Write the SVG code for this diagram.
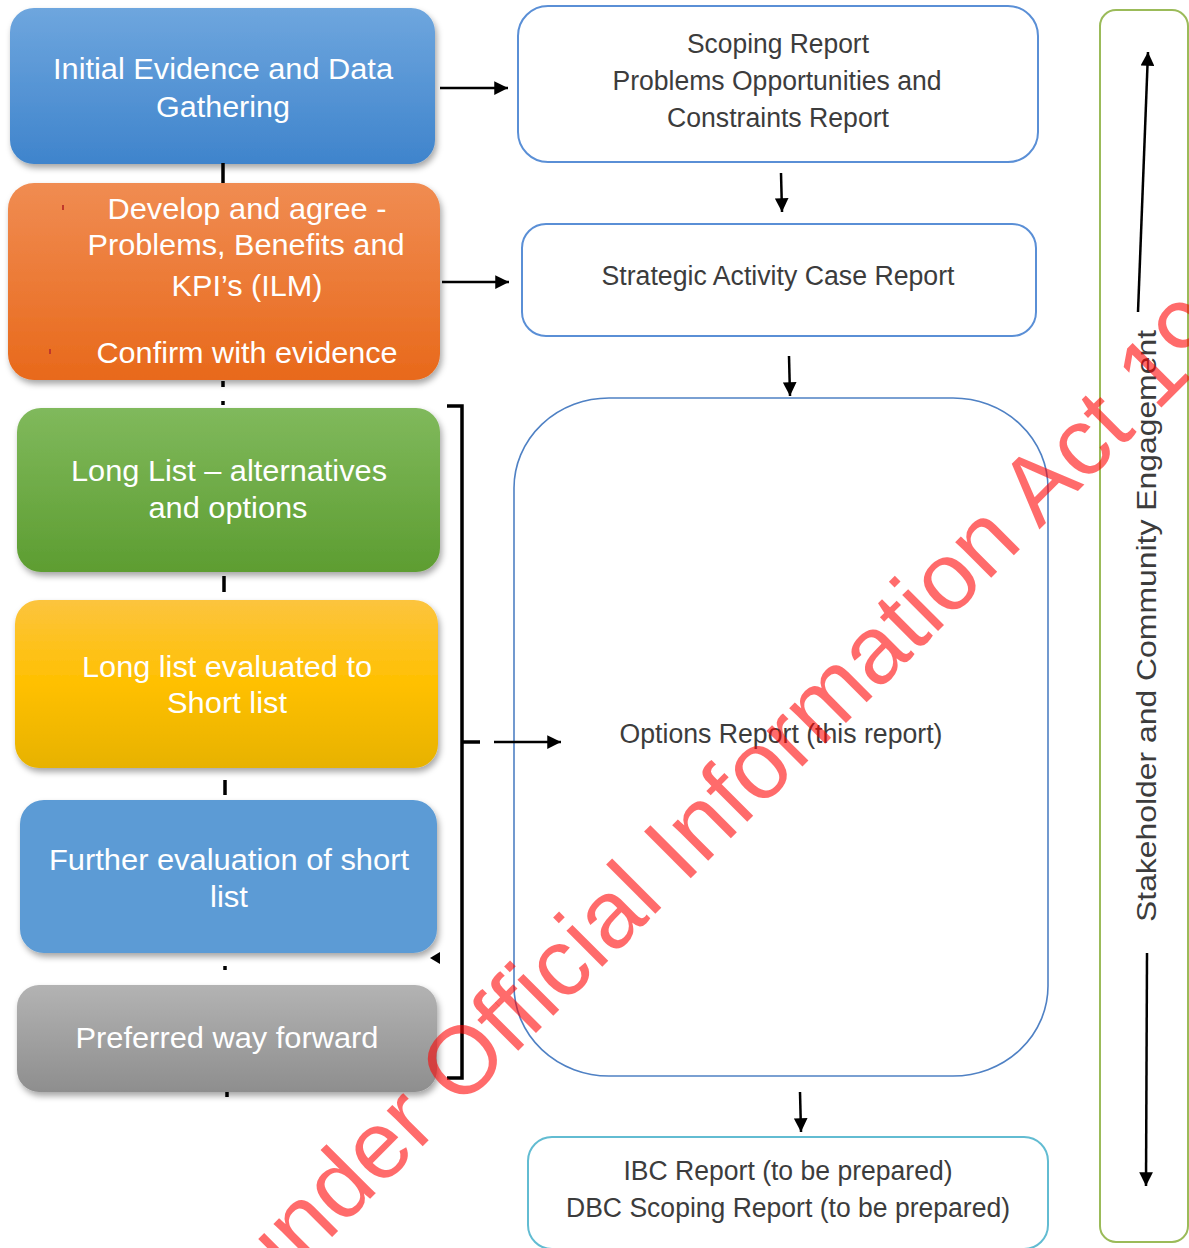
<svg xmlns="http://www.w3.org/2000/svg" width="1189" height="1248" viewBox="0 0 1189 1248">
<style>
.lt{font-family:"Liberation Sans",Arial,sans-serif;font-size:30px;fill:#ffffff;}
.rt{font-family:"Liberation Sans",Arial,sans-serif;font-size:27px;fill:#3c3c3c;}
.rb{fill:#ffffff;stroke:#5a8fd6;stroke-width:2;}
.ln{stroke:#000;stroke-width:2.5;fill:none;}
.tk{stroke:#000;stroke-width:3.5;fill:none;}
.wm{font-family:"Liberation Sans",Arial,sans-serif;font-size:96px;fill:#ff0000;fill-opacity:0.58;}
</style>
<defs>
<filter id="sh" x="-10%" y="-10%" width="120%" height="130%">
<feDropShadow dx="2" dy="4" stdDeviation="3" flood-color="#000" flood-opacity="0.35"/>
</filter>
<linearGradient id="gBlue" x1="0" y1="0" x2="0" y2="1"><stop offset="0" stop-color="#6ea6de"/><stop offset="1" stop-color="#3f84cc"/></linearGradient>
<linearGradient id="gOr" x1="0" y1="0" x2="0" y2="1"><stop offset="0" stop-color="#f08c52"/><stop offset="1" stop-color="#e8691b"/></linearGradient>
<linearGradient id="gGr" x1="0" y1="0" x2="0" y2="1"><stop offset="0" stop-color="#80b95c"/><stop offset="1" stop-color="#5d9d31"/></linearGradient>
<linearGradient id="gYe" x1="0" y1="0" x2="0" y2="1"><stop offset="0" stop-color="#fcc43e"/><stop offset="0.5" stop-color="#ffc000"/><stop offset="1" stop-color="#e7b200"/></linearGradient>
<linearGradient id="gGy" x1="0" y1="0" x2="0" y2="1"><stop offset="0" stop-color="#b3b3b3"/><stop offset="1" stop-color="#8e8e8e"/></linearGradient>
<marker id="ah" viewBox="0 0 10 10" refX="10" refY="5" markerWidth="5.5" markerHeight="5.5" orient="auto" markerUnits="strokeWidth">
<path d="M0,0 L10,5 L0,10 Z" fill="#000"/>
</marker>
</defs>

<g id="n1">
<rect x="10" y="8" width="425" height="156" rx="24" fill="url(#gBlue)" filter="url(#sh)"/>
<text class="lt" x="223" y="79" text-anchor="middle" textLength="340" lengthAdjust="spacingAndGlyphs">Initial Evidence and Data</text>
<text class="lt" x="223" y="117" text-anchor="middle" textLength="134" lengthAdjust="spacingAndGlyphs">Gathering</text>
</g>

<g id="n2">
<rect x="8" y="183" width="432" height="197" rx="26" fill="url(#gOr)" filter="url(#sh)"/>
<rect x="62" y="205" width="2" height="5" fill="#c0392b"/>
<rect x="49" y="349" width="2" height="5" fill="#c0392b"/>
<text class="lt" x="247" y="219" text-anchor="middle" textLength="279" lengthAdjust="spacingAndGlyphs">Develop and agree -</text>
<text class="lt" x="246" y="255" text-anchor="middle" textLength="317" lengthAdjust="spacingAndGlyphs">Problems, Benefits and</text>
<text class="lt" x="247" y="296" text-anchor="middle" textLength="151" lengthAdjust="spacingAndGlyphs">KPI’s (ILM)</text>
<text class="lt" x="247" y="363" text-anchor="middle" textLength="301" lengthAdjust="spacingAndGlyphs">Confirm with evidence</text>
</g>

<g id="n3">
<rect x="17" y="408" width="423" height="164" rx="24" fill="url(#gGr)" filter="url(#sh)"/>
<text class="lt" x="229" y="481" text-anchor="middle" textLength="316" lengthAdjust="spacingAndGlyphs">Long List – alternatives</text>
<text class="lt" x="228" y="518" text-anchor="middle" textLength="159" lengthAdjust="spacingAndGlyphs">and options</text>
</g>

<g id="n4">
<rect x="15" y="600" width="423" height="168" rx="24" fill="url(#gYe)" filter="url(#sh)"/>
<text class="lt" x="227" y="677" text-anchor="middle" textLength="290" lengthAdjust="spacingAndGlyphs">Long list evaluated to</text>
<text class="lt" x="227" y="713" text-anchor="middle" textLength="120" lengthAdjust="spacingAndGlyphs">Short list</text>
</g>

<g id="n5">
<rect x="20" y="800" width="417" height="153" rx="24" fill="#5b9bd5" filter="url(#sh)"/>
<text class="lt" x="229" y="870" text-anchor="middle" textLength="360" lengthAdjust="spacingAndGlyphs">Further evaluation of short</text>
<text class="lt" x="229" y="907" text-anchor="middle" textLength="38" lengthAdjust="spacingAndGlyphs">list</text>
</g>

<g id="n6">
<rect x="17" y="985" width="420" height="107" rx="22" fill="url(#gGy)" filter="url(#sh)"/>
<text class="lt" x="227" y="1048" text-anchor="middle" textLength="303" lengthAdjust="spacingAndGlyphs">Preferred way forward</text>
</g>

<g id="r1">
<rect class="rb" x="518" y="6" width="520" height="156" rx="30"/>
<text class="rt" x="778" y="53" text-anchor="middle" textLength="182" lengthAdjust="spacingAndGlyphs">Scoping Report</text>
<text class="rt" x="777" y="90" text-anchor="middle" textLength="329" lengthAdjust="spacingAndGlyphs">Problems Opportunities and</text>
<text class="rt" x="778" y="127" text-anchor="middle" textLength="222" lengthAdjust="spacingAndGlyphs">Constraints Report</text>
</g>

<g id="r2">
<rect class="rb" x="522" y="224" width="514" height="112" rx="24"/>
<text class="rt" x="778" y="285" text-anchor="middle" textLength="353" lengthAdjust="spacingAndGlyphs">Strategic Activity Case Report</text>
</g>

<g id="r3">
<rect x="514" y="398" width="534" height="678" rx="95" ry="90" fill="#ffffff" stroke="#4f81c4" stroke-width="1.6"/>
<text class="rt" x="781" y="743" text-anchor="middle" textLength="323" lengthAdjust="spacingAndGlyphs">Options Report (this report)</text>
</g>

<g id="r4">
<rect x="528" y="1137" width="520" height="112" rx="24" fill="#ffffff" stroke="#62bcd2" stroke-width="2"/>
<text class="rt" x="788" y="1180" text-anchor="middle" textLength="329" lengthAdjust="spacingAndGlyphs">IBC Report (to be prepared)</text>
<text class="rt" x="788" y="1217" text-anchor="middle" textLength="444" lengthAdjust="spacingAndGlyphs">DBC Scoping Report (to be prepared)</text>
</g>

<g id="r5">
<rect x="1100" y="10" width="88" height="1232" rx="16" fill="none" stroke="#9bbb59" stroke-width="2"/>
<text class="rt" transform="translate(1156,626) rotate(-90)" x="0" y="0" text-anchor="middle" font-size="30" textLength="592" lengthAdjust="spacingAndGlyphs">Stakeholder and Community Engagement</text>
</g>

<g id="connectors">
<line class="ln" x1="440" y1="88" x2="508" y2="88" marker-end="url(#ah)"/>
<line class="ln" x1="442" y1="282" x2="509" y2="282" marker-end="url(#ah)"/>
<line class="ln" x1="781" y1="173" x2="782" y2="212" marker-end="url(#ah)"/>
<line class="ln" x1="789" y1="356" x2="790" y2="396" marker-end="url(#ah)"/>
<line class="ln" x1="800" y1="1092" x2="801" y2="1132" marker-end="url(#ah)"/>
<line class="ln" x1="494" y1="742" x2="561" y2="742" marker-end="url(#ah)"/>
<line class="ln" x1="1138" y1="312" x2="1148" y2="52" marker-end="url(#ah)"/>
<line class="ln" x1="1147" y1="953" x2="1146" y2="1186" marker-end="url(#ah)"/>
<path class="tk" d="M447,406 L462,406 L462,1078 L447,1078"/>
<line class="tk" x1="462" y1="742" x2="480" y2="742"/>
<polygon points="430,958 440,952 440,964" fill="#000"/>
<line class="tk" x1="223" y1="163" x2="223" y2="183"/>
<line class="tk" x1="223" y1="381" x2="223" y2="387"/>
<line class="tk" x1="223" y1="401" x2="223" y2="405"/>
<line class="tk" x1="224" y1="576" x2="224" y2="592"/>
<line class="tk" x1="225" y1="780" x2="225" y2="795"/>
<line class="tk" x1="225" y1="966" x2="225" y2="970"/>
<line class="tk" x1="227" y1="1092" x2="227" y2="1097"/>
</g>

<g id="watermark">
<text class="wm" transform="translate(267,1302) rotate(-45)" x="0" y="0">under Official Information Act 19</text>
</g>
</svg>
